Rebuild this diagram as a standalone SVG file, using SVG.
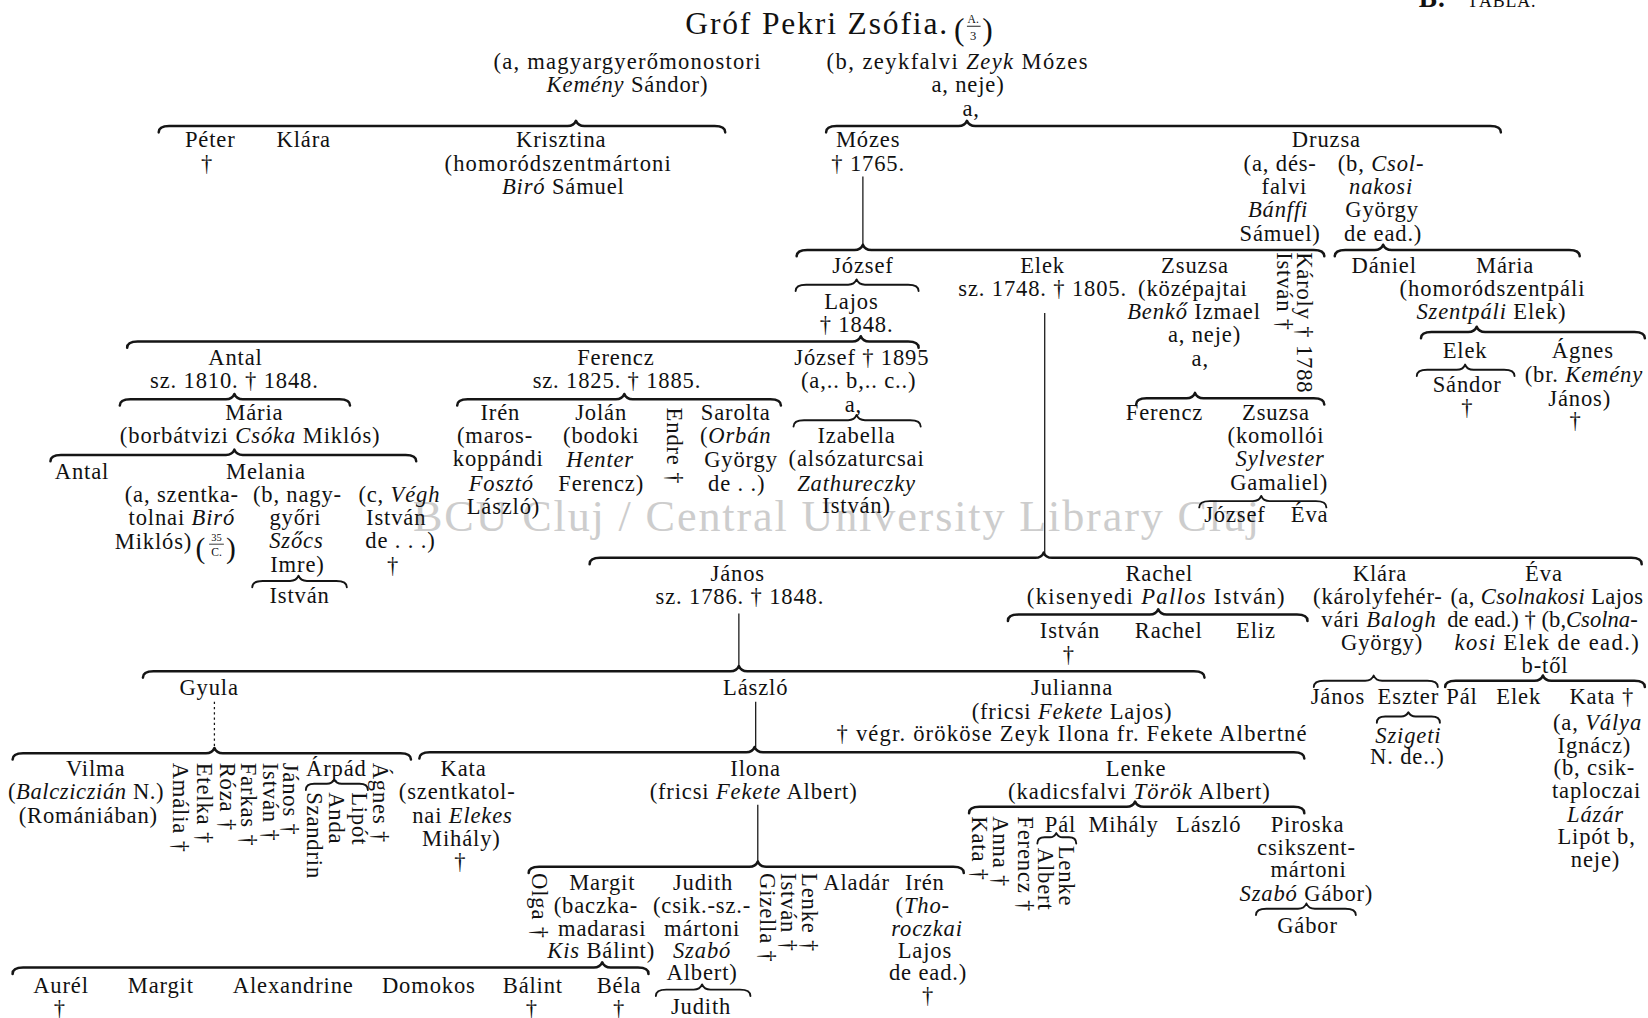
<svg xmlns="http://www.w3.org/2000/svg" width="1648" height="1018" viewBox="0 0 1648 1018">
<style>
.t{font-family:"Liberation Serif","Times New Roman",serif;font-size:21.5px;letter-spacing:0.8px;fill:#111111;text-anchor:middle}
.i{font-style:italic}
.v{text-anchor:start}
.br{fill:none;stroke:#151515;stroke-width:2.4;stroke-linecap:round;stroke-linejoin:round}
.bs{stroke-width:1.8}
.ln{fill:none;stroke:#151515;stroke-width:1.2}
.dl{stroke-dasharray:2 3}
.wm{font-family:"Liberation Serif","Times New Roman",serif;font-size:42px;fill:#cdcdcd;text-anchor:start}
</style>
<rect x="0" y="0" width="1648" height="1018" fill="#ffffff"/>
<g transform="scale(1.05102 1.05057)">
<text class="wm" x="393" y="505" textLength="805" lengthAdjust="spacing">BCU Cluj / Central University Library Cluj</text>

<g id="connectors">
<path class="br" d="M151 126 Q151 120 161 120 L540 120 Q546 120 548 115 Q550 120 556 120 L680 120 Q690 120 690 126"/>
<path class="br" d="M786 126 Q786 120 796 120 L912 120 Q918 120 920 115 Q922 120 928 120 L1418 120 Q1428 120 1428 126"/>
<path class="br" d="M758 244 Q758 238 768 238 L813 238 Q819 238 821 233 Q823 238 829 238 L1250 238 Q1260 238 1260 244"/>
<path class="br bs" d="M757 277 Q757 271 767 271 L807 271 Q813 271 815 266 Q817 271 823 271 L864 271 Q874 271 874 277"/>
<path class="br" d="M1270 244 Q1270 238 1280 238 L1308 238 Q1314 238 1316 233 Q1318 238 1324 238 L1493 238 Q1503 238 1503 244"/>
<path class="br" d="M1352 322 Q1352 316 1362 316 L1397 316 Q1403 316 1405 311 Q1407 316 1413 316 L1555 316 Q1565 316 1565 322"/>
<path class="br bs" d="M1348 358 Q1348 352 1358 352 L1386 352 Q1392 352 1394 347 Q1396 352 1402 352 L1431 352 Q1441 352 1441 358"/>
<path class="br" d="M121 331 Q121 325 131 325 L811 325 Q817 325 819 320 Q821 325 827 325 L864 325 Q874 325 874 331"/>
<path class="br" d="M114 386 Q114 380 124 380 L215 380 Q221 380 223 375 Q225 380 231 380 L323 380 Q333 380 333 386"/>
<path class="br" d="M48 439 Q48 433 58 433 L215 433 Q221 433 223 428 Q225 433 231 433 L386 433 Q396 433 396 439"/>
<path class="br bs" d="M240 559 Q240 553 250 553 L276 553 Q282 553 284 548 Q286 553 292 553 L320 553 Q330 553 330 559"/>
<path class="br" d="M435 386 Q435 380 445 380 L586 380 Q592 380 594 375 Q596 380 602 380 L733 380 Q743 380 743 386"/>
<path class="br bs" d="M755 406 Q755 400 765 400 L807 400 Q813 400 815 395 Q817 400 823 400 L866 400 Q876 400 876 406"/>
<path class="br" d="M1081 385 Q1081 379 1091 379 L1129 379 Q1135 379 1137 374 Q1139 379 1145 379 L1250 379 Q1260 379 1260 385"/>
<path class="br bs" d="M1141 483 Q1141 477 1151 477 L1192 477 Q1198 477 1200 472 Q1202 477 1208 477 L1252 477 Q1262 477 1262 483"/>
<path class="br" d="M561 537 Q561 531 571 531 L985 531 Q991 531 993 526 Q995 531 1001 531 L1552 531 Q1562 531 1562 537"/>
<path class="br" d="M959 591 Q959 585 969 585 L1094 585 Q1100 585 1102 580 Q1104 585 1110 585 L1234 585 Q1244 585 1244 591"/>
<path class="br bs" d="M1250 654 Q1250 648 1260 648 L1299 648 Q1305 648 1307 643 Q1309 648 1315 648 L1358 648 Q1368 648 1368 654"/>
<path class="br bs" d="M1310 688 Q1310 682 1318 682 L1333 682 Q1338 682 1340 678 Q1342 682 1347 682 L1362 682 Q1370 682 1370 688"/>
<path class="br" d="M1375 654 Q1375 648 1385 648 L1460 648 Q1466 648 1468 643 Q1470 648 1476 648 L1555 648 Q1565 648 1565 654"/>
<path class="br" d="M136 645 Q136 639 146 639 L695 639 Q701 639 703 634 Q705 639 711 639 L1136 639 Q1146 639 1146 645"/>
<path class="br" d="M12 723 Q12 717 22 717 L196 717 Q202 717 204 712 Q206 717 212 717 L381 717 Q391 717 391 723"/>
<path class="br" d="M399 722 Q399 716 409 716 L710 716 Q716 716 718 711 Q720 716 726 716 L1231 716 Q1241 716 1241 722"/>
<path class="br bs" d="M291 752 Q291 746 299 746 L311 746 Q316 746 318 742 Q320 746 325 746 L342 746 Q350 746 350 752"/>
<path class="br" d="M503 831 Q503 825 513 825 L713 825 Q719 825 721 820 Q723 825 729 825 L907 825 Q917 825 917 831"/>
<path class="br" d="M12 927 Q12 921 22 921 L565 921 Q571 921 573 916 Q575 921 581 921 L607 921 Q617 921 617 927"/>
<path class="br bs" d="M624 948 Q624 942 634 942 L660 942 Q666 942 668 937 Q670 942 676 942 L704 942 Q714 942 714 948"/>
<path class="br" d="M922 774 Q922 768 932 768 L1072 768 Q1078 768 1080 763 Q1082 768 1088 768 L1231 768 Q1241 768 1241 774"/>
<path class="br bs" d="M987 803 Q987 797 994 797 L999 797 Q1003 797 1005 793 Q1007 797 1011 797 L1017 797 Q1024 797 1024 803"/>
<path class="br bs" d="M1195 871 Q1195 865 1205 865 L1235 865 Q1241 865 1243 860 Q1245 865 1251 865 L1280 865 Q1290 865 1290 871"/>
<line class="ln" x1="821" y1="168" x2="821" y2="234"/>
<line class="ln" x1="994" y1="298" x2="994" y2="527"/>
<line class="ln" x1="703" y1="584" x2="703" y2="635"/>
<line class="ln dl" x1="204" y1="668" x2="204" y2="712"/>
<line class="ln" x1="719" y1="668" x2="719" y2="711"/>
<line class="ln" x1="721" y1="766" x2="721" y2="820"/>
</g>

<g class="t">
<g id="title">
<text x="652" y="32" style="font-size:30px;text-anchor:start" textLength="250" lengthAdjust="spacing">Gróf Pekri Zsófia.</text>
<text x="913" y="38" style="font-size:30px">(</text>
<text x="926" y="22" style="font-size:11px;letter-spacing:0">A.</text>
<line x1="920" y1="25" x2="933" y2="25" stroke="#151515" stroke-width="0.9"/>
<text x="926" y="38" style="font-size:12px;letter-spacing:0">3</text>
<text x="940" y="38" style="font-size:30px">)</text>
</g>
<g id="tabla">
<text x="1350" y="7" style="font-size:26px;font-weight:bold;text-anchor:start">B.</text>
<text x="1396" y="7" style="font-size:17px;text-anchor:start">TÁBLA.</text>
</g>
<g id="n-kemeny-sandor">
<text x="597" y="66" textLength="255" lengthAdjust="spacing">(a, magyargyerőmonostori</text>
<text x="597" y="88"><tspan class="i">Kemény</tspan> Sándor)</text>
</g>
<g id="n-zeyk-mozes">
<text x="911" y="66" textLength="249" lengthAdjust="spacing">(b, zeykfalvi <tspan class="i">Zeyk</tspan> Mózes</text>
<text x="921" y="88">a, neje)</text>
<text x="924" y="110">a,</text>
</g>
<g id="n-peter"><text x="200" y="140">Péter</text><text x="197" y="163">†</text></g>
<g id="n-klara1"><text x="289" y="140">Klára</text></g>
<g id="n-krisztina">
<text x="534" y="140">Krisztina</text>
<text x="531" y="163" textLength="216" lengthAdjust="spacing">(homoródszentmártoni</text>
<text x="536" y="185"><tspan class="i">Biró</tspan> Sámuel</text>
</g>
<g id="n-mozes"><text x="826" y="140">Mózes</text><text x="826" y="163">† 1765.</text></g>
<g id="n-druzsa">
<text x="1262" y="140">Druzsa</text>
<text x="1218" y="163">(a, dés-</text>
<text x="1222" y="185">falvi</text>
<text x="1216" y="207" class="i">Bánffi</text>
<text x="1218" y="229">Sámuel)</text>
<text x="1314" y="163">(b, <tspan class="i">Csol-</tspan></text>
<text x="1314" y="185" class="i">nakosi</text>
<text x="1315" y="207">György</text>
<text x="1316" y="229">de ead.)</text>
</g>
<g id="n-jozsef1"><text x="821" y="260">József</text></g>
<g id="n-lajos"><text x="810" y="294">Lajos</text><text x="815" y="316">† 1848.</text></g>
<g id="n-elek1"><text x="992" y="260">Elek</text><text x="992" y="282">sz. 1748. † 1805.</text></g>
<g id="n-zsuzsa1">
<text x="1137" y="260">Zsuzsa</text>
<text x="1135" y="282">(középajtai</text>
<text x="1136" y="304"><tspan class="i">Benkő</tspan> Izmael</text>
<text x="1146" y="326">a, neje)</text>
<text x="1142" y="348">a,</text>
</g>
<g id="n-karoly"><text class="v" transform="translate(1234,240) rotate(90)">Károly † 1788</text></g>
<g id="n-istvan1"><text class="v" transform="translate(1215,240) rotate(90)">István †</text></g>
<g id="n-daniel"><text x="1317" y="260">Dániel</text></g>
<g id="n-maria1">
<text x="1432" y="260">Mária</text>
<text x="1420" y="282" textLength="177" lengthAdjust="spacing">(homoródszentpáli</text>
<text x="1419" y="304"><tspan class="i">Szentpáli</tspan> Elek)</text>
</g>
<g id="n-elek2"><text x="1394" y="341">Elek</text></g>
<g id="n-sandor"><text x="1396" y="373">Sándor</text><text x="1396" y="395">†</text></g>
<g id="n-agnes1">
<text x="1506" y="341">Ágnes</text>
<text x="1507" y="364">(br. <tspan class="i">Kemény</tspan></text>
<text x="1503" y="386">János)</text>
<text x="1499" y="407">†</text>
</g>
<g id="n-antal1"><text x="224" y="347">Antal</text><text x="223" y="369">sz. 1810. † 1848.</text></g>
<g id="n-maria2">
<text x="242" y="400">Mária</text>
<text x="238" y="422" textLength="248" lengthAdjust="spacing">(borbátvizi <tspan class="i">Csóka</tspan> Miklós)</text>
</g>
<g id="n-antal2"><text x="78" y="456">Antal</text></g>
<g id="n-melania">
<text x="253" y="456">Melania</text>
<text x="173" y="478">(a, szentka-</text>
<text x="173" y="500">tolnai <tspan class="i">Biró</tspan></text>
<text x="146" y="523">Miklós)</text>
<text x="191" y="531" style="font-size:28px">(</text>
<text x="206" y="515" style="font-size:10px;letter-spacing:0">35</text>
<line x1="199" y1="518" x2="213" y2="518" stroke="#151515" stroke-width="0.8"/>
<text x="206" y="529" style="font-size:11px;letter-spacing:0">C.</text>
<text x="220" y="531" style="font-size:28px">)</text>
<text x="283" y="478">(b, nagy-</text>
<text x="281" y="500">győri</text>
<text x="282" y="522" class="i">Szőcs</text>
<text x="283" y="544">Imre)</text>
<text x="380" y="478">(c, <tspan class="i">Végh</tspan></text>
<text x="377" y="500">István</text>
<text x="381" y="522">de . . .)</text>
<text x="374" y="545">†</text>
</g>
<g id="n-istvan2"><text x="285" y="574">István</text></g>
<g id="n-ferencz1"><text x="586" y="347">Ferencz</text><text x="587" y="369">sz. 1825. † 1885.</text></g>
<g id="n-iren1">
<text x="476" y="400">Irén</text>
<text x="471" y="422">(maros-</text>
<text x="474" y="444">koppándi</text>
<text x="477" y="467" class="i">Fosztó</text>
<text x="479" y="489">László)</text>
</g>
<g id="n-jolan">
<text x="572" y="400">Jolán</text>
<text x="572" y="422">(bodoki</text>
<text x="571" y="445" class="i">Henter</text>
<text x="572" y="467">Ferencz)</text>
</g>
<g id="n-endre"><text class="v" transform="translate(635,388) rotate(90)">Endre  †</text></g>
<g id="n-sarolta">
<text x="700" y="400">Sarolta</text>
<text x="700" y="422">(<tspan class="i">Orbán</tspan></text>
<text x="705" y="445">György</text>
<text x="701" y="467">de . .)</text>
</g>
<g id="n-jozsef2">
<text x="820" y="347">József † 1895</text>
<text x="817" y="369">(a,.. b,.. c..)</text>
<text x="812" y="392">a,</text>
</g>
<g id="n-izabella">
<text x="815" y="422">Izabella</text>
<text x="815" y="444">(alsózaturcsai</text>
<text x="815" y="467" class="i">Zathureczky</text>
<text x="815" y="488">István)</text>
</g>
<g id="n-ferencz2"><text x="1108" y="400">Ferencz</text></g>
<g id="n-zsuzsa2">
<text x="1214" y="400">Zsuzsa</text>
<text x="1214" y="422">(komollói</text>
<text x="1218" y="444" class="i">Sylvester</text>
<text x="1217" y="466">Gamaliel)</text>
</g>
<g id="n-jozsef3"><text x="1175" y="497">József</text></g>
<g id="n-eva1"><text x="1246" y="497">Éva</text></g>
<g id="n-janos1"><text x="702" y="553">János</text><text x="704" y="575">sz. 1786. † 1848.</text></g>
<g id="n-rachel1">
<text x="1103" y="553">Rachel</text>
<text x="1100" y="575" textLength="246" lengthAdjust="spacing">(kisenyedi <tspan class="i">Pallos</tspan> István)</text>
</g>
<g id="n-istvan3"><text x="1018" y="607">István</text><text x="1017" y="630">†</text></g>
<g id="n-rachel2"><text x="1112" y="607">Rachel</text></g>
<g id="n-eliz"><text x="1195" y="607">Eliz</text></g>
<g id="n-klara2">
<text x="1313" y="553">Klára</text>
<text x="1311" y="575">(károlyfehér-</text>
<text x="1312" y="597">vári <tspan class="i">Balogh</tspan></text>
<text x="1315" y="619">György)</text>
</g>
<g id="n-eva2">
<text x="1469" y="553">Éva</text>
<text x="1472" y="575" textLength="184" lengthAdjust="spacing">(a, <tspan class="i">Csolnakosi</tspan> Lajos</text>
<text x="1468" y="597" textLength="182" lengthAdjust="spacing">de ead.) † (b,<tspan class="i">Csolna-</tspan></text>
<text x="1472" y="619" textLength="176" lengthAdjust="spacing"><tspan class="i">kosi</tspan> Elek de ead.)</text>
<text x="1470" y="641">b-től</text>
</g>
<g id="n-janos2"><text x="1273" y="670">János</text></g>
<g id="n-eszter"><text x="1340" y="670">Eszter</text><text x="1340" y="707" class="i">Szigeti</text><text x="1339" y="727">N. de..)</text></g>
<g id="n-pal1"><text x="1391" y="670">Pál</text></g>
<g id="n-elek3"><text x="1445" y="670">Elek</text></g>
<g id="n-kata1">
<text x="1524" y="670">Kata †</text>
<text x="1520" y="695">(a, <tspan class="i">Válya</tspan></text>
<text x="1517" y="717">Ignácz)</text>
<text x="1517" y="738">(b, csik-</text>
<text x="1519" y="760">taploczai</text>
<text x="1518" y="782" class="i">Lázár</text>
<text x="1519" y="803">Lipót b,</text>
<text x="1518" y="825">neje)</text>
</g>
<g id="n-gyula"><text x="199" y="662">Gyula</text></g>
<g id="n-laszlo1"><text x="719" y="662">László</text></g>
<g id="n-julianna">
<text x="1020" y="662">Julianna</text>
<text x="1020" y="684" textLength="191" lengthAdjust="spacing">(fricsi <tspan class="i">Fekete</tspan> Lajos)</text>
<text x="796" y="705" style="text-anchor:start" textLength="448" lengthAdjust="spacing">† végr. örököse Zeyk Ilona fr. Fekete Albertné</text>
</g>
<g id="n-vilma">
<text x="91" y="739">Vilma</text>
<text x="82" y="761" textLength="149" lengthAdjust="spacing">(<tspan class="i">Balcziczián</tspan> N.)</text>
<text x="84" y="783">(Romániában)</text>
</g>
<g id="n-amalia"><text class="v" transform="translate(165,726) rotate(90)">Amália †</text></g>
<g id="n-etelka"><text class="v" transform="translate(187,726) rotate(90)">Etelka †</text></g>
<g id="n-roza"><text class="v" transform="translate(209,726) rotate(90)">Róza †</text></g>
<g id="n-farkas"><text class="v" transform="translate(229,726) rotate(90)">Farkas †</text></g>
<g id="n-istvan4"><text class="v" transform="translate(250,726) rotate(90)">István †</text></g>
<g id="n-janos3"><text class="v" transform="translate(269,726) rotate(90)">János †</text></g>
<g id="n-arpad"><text x="320" y="739">Árpád</text></g>
<g id="n-szandrin"><text class="v" transform="translate(292,754) rotate(90)">Szandrin</text></g>
<g id="n-anda"><text class="v" transform="translate(313,754) rotate(90)">Anda</text></g>
<g id="n-lipot"><text class="v" transform="translate(335,754) rotate(90)">Lipót</text></g>
<g id="n-agnes2"><text class="v" transform="translate(355,726) rotate(90)">Ágnes †</text></g>
<g id="n-kata2">
<text x="441" y="739">Kata</text>
<text x="435" y="761">(szentkatol-</text>
<text x="440" y="783">nai <tspan class="i">Elekes</tspan></text>
<text x="439" y="805">Mihály)</text>
<text x="438" y="827">†</text>
</g>
<g id="n-ilona">
<text x="719" y="739">Ilona</text>
<text x="717" y="761">(fricsi <tspan class="i">Fekete</tspan> Albert)</text>
</g>
<g id="n-lenke1">
<text x="1081" y="739">Lenke</text>
<text x="1084" y="761" textLength="250" lengthAdjust="spacing">(kadicsfalvi <tspan class="i">Török</tspan> Albert)</text>
</g>
<g id="n-olga"><text class="v" transform="translate(506,831) rotate(90)">Olga †</text></g>
<g id="n-margit1">
<text x="573" y="847">Margit</text>
<text x="567" y="869">(baczka-</text>
<text x="573" y="891">madarasi</text>
<text x="572" y="912"><tspan class="i">Kis</tspan> Bálint)</text>
</g>
<g id="n-judith1">
<text x="669" y="847">Judith</text>
<text x="668" y="869">(csik.-sz.-</text>
<text x="668" y="891">mártoni</text>
<text x="668" y="912" class="i">Szabó</text>
<text x="668" y="933">Albert)</text>
</g>
<g id="n-judith2"><text x="667" y="965">Judith</text></g>
<g id="n-gizella"><text class="v" transform="translate(723,831) rotate(90)">Gizella †</text></g>
<g id="n-istvan5"><text class="v" transform="translate(743,831) rotate(90)">István †</text></g>
<g id="n-lenke2"><text class="v" transform="translate(763,831) rotate(90)">Lenke †</text></g>
<g id="n-aladar"><text x="815" y="847">Aladár</text></g>
<g id="n-iren2">
<text x="880" y="847">Irén</text>
<text x="878" y="869">(<tspan class="i">Tho-</tspan></text>
<text x="882" y="891" class="i">roczkai</text>
<text x="880" y="912">Lajos</text>
<text x="883" y="933">de ead.)</text>
<text x="883" y="955">†</text>
</g>
<g id="n-kata3"><text class="v" transform="translate(925,777) rotate(90)">Kata †</text></g>
<g id="n-anna"><text class="v" transform="translate(945,777) rotate(90)">Anna †</text></g>
<g id="n-ferencz3"><text class="v" transform="translate(969,777) rotate(90)">Ferencz †</text></g>
<g id="n-pal2"><text x="1009" y="792">Pál</text></g>
<g id="n-albert"><text class="v" transform="translate(988,807) rotate(90)">Albert</text></g>
<g id="n-lenke3"><text class="v" transform="translate(1008,805) rotate(90)">Lenke</text></g>
<g id="n-mihaly"><text x="1069" y="792">Mihály</text></g>
<g id="n-laszlo2"><text x="1150" y="792">László</text></g>
<g id="n-piroska">
<text x="1244" y="792">Piroska</text>
<text x="1243" y="814">csikszent-</text>
<text x="1245" y="835">mártoni</text>
<text x="1243" y="858"><tspan class="i">Szabó</tspan> Gábor)</text>
</g>
<g id="n-gabor"><text x="1244" y="888">Gábor</text></g>
<g id="n-aurel"><text x="58" y="945">Aurél</text><text x="57" y="967">†</text></g>
<g id="n-margit2"><text x="153" y="945">Margit</text></g>
<g id="n-alexandrine"><text x="279" y="945">Alexandrine</text></g>
<g id="n-domokos"><text x="408" y="945">Domokos</text></g>
<g id="n-balint"><text x="507" y="945">Bálint</text><text x="506" y="967">†</text></g>
<g id="n-bela"><text x="589" y="945">Béla</text><text x="589" y="967">†</text></g>
</g>
</g>
</svg>
